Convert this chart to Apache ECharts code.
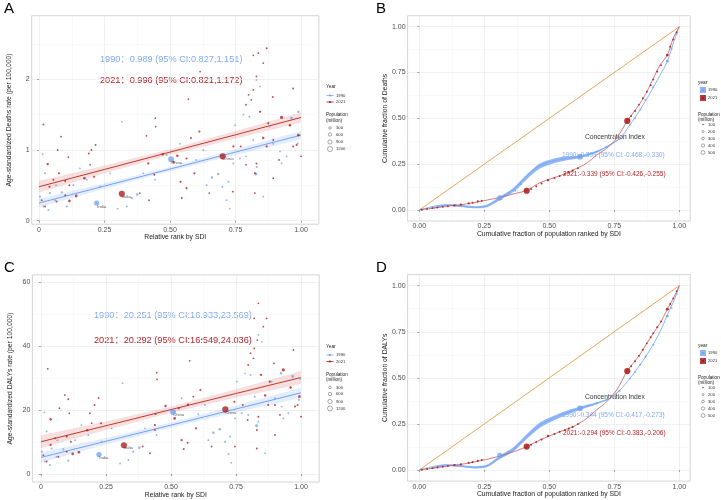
<!DOCTYPE html>
<html><head><meta charset="utf-8">
<script src="https://cdn.jsdelivr.net/npm/echarts@6/dist/echarts.min.js"></script>
<style>html,body{margin:0;padding:0;background:#fff}#c{width:721px;height:500px}</style>
</head><body><div id="c"></div>
<script>
// ---------------- data ----------------
const rankTicks = [0, 0.25, 0.5, 0.75, 1];
const rankTickLabels = ['0', '0.25', '0.50', '0.75', '1.00'];
const fracTickLabels = ['0.00', '0.25', '0.50', '0.75', '1.00'];
const rankMinor = [0.125, 0.375, 0.625, 0.875];
const deathTicks = [0, 1, 2];
const deathTickLabels = ['0', '1', '2'];
const deathMinor = [0.5, 1.5, 2.5];
const dalyTicks = [0, 20, 40, 60];
const dalyTickLabels = ['0', '20', '40', '60'];
const dalyMinor = [10, 30, 50];
const popLegendA = ['300', '600', '900', '1200'];
const popLegendB = ['100', '200', '300', '400', '500'];

// [rank, rate, population(million), label]
const deaths1990 = [
[0.22,0.25,870,'India'],[0.504,0.87,1150,'China'],[0.014,0.94,10],[0.023,0.67,15],[0.004,0.34,20],[0.017,0.20,10],[0.036,0.15,15],[0.061,0.29,20],[0.087,0.40,25],[0.106,0.20,30],[0.156,0.74,8],[0.30,0.17,10],[0.335,0.20,15],[0.375,0.37,80],[0.354,0.32,40],[0.316,1.40,5],[0.60,0.86,10],[0.627,1.00,8],[0.64,0.50,15],[0.66,0.61,50],[0.684,0.66,60],[0.70,0.48,20],[0.723,0.55,15],[0.716,0.29,10],[0.728,0.17,8],[0.742,0.81,10],[0.767,0.88,15],[0.79,0.91,10],[0.818,1.14,20],[0.831,0.76,15],[0.828,0.66,120],[0.803,1.47,8],[0.78,1.50,6],[0.856,0.34,6],[0.88,1.33,10],[0.894,1.09,15],[0.92,0.98,10],[0.964,1.45,120],[0.99,1.54,50],[0.987,1.09,20],[0.945,0.91,10],[0.926,0.81,8],[0.748,1.35,6],[0.844,1.90,5],[0.83,1.99,5],[0.487,0.93,10],[0.538,1.09,6],[0.443,0.58,10],[0.398,0.67,8],[0.271,0.67,6],[0.233,0.48,10],[0.182,0.58,8],[0.131,0.50,12],[0.065,0.50,15],[0.042,0.39,20]
];
const deaths2021 = [
[0.017,1.36,12],[0.033,0.80,60],[0.084,1.19,8],[0.076,0.67,25],[0.116,0.28,80],[0.142,0.35,90],[0.173,0.60,70],[0.20,1.00,15],[0.216,1.07,10],[0.21,0.62,20],[0.316,0.38,1400,'India'],[0.444,1.45,5],[0.445,1.33,5],[0.417,0.81,40],[0.41,1.20,5],[0.472,0.94,60],[0.513,0.83,80],[0.528,0.92,60],[0.54,0.55,30],[0.545,0.32,20],[0.57,1.72,6],[0.563,0.88,30],[0.58,1.17,10],[0.593,0.67,40],[0.612,1.26,25],[0.615,2.11,4],[0.563,0.46,20],[0.701,0.91,1420,'China'],[0.742,1.05,30],[0.79,1.64,10],[0.80,1.78,5],[0.81,1.71,8],[0.818,2.34,4],[0.837,2.37,6],[0.869,2.44,10],[0.856,2.23,5],[0.83,2.04,5],[0.818,1.85,8],[0.844,1.54,40],[0.875,1.38,20],[0.869,1.05,30],[0.856,1.17,60],[0.894,1.14,15],[0.892,1.75,6],[0.926,1.46,200],[0.958,1.35,60],[0.97,1.87,10],[0.97,1.05,20],[0.983,1.07,15],[0.99,1.21,80],[1.0,0.91,10],[0.824,0.67,15],[0.824,0.39,10],[0.894,0.60,8],[0.79,0.79,10],[0.83,0.81,15],[0.916,0.86,10],[0.77,1.05,8],[0.74,0.41,6],[0.65,0.39,6],[0.42,0.29,8],[0.385,0.39,10],[0.44,0.65,10],[0.04,0.48,30],[0.055,0.58,20],[0.10,0.56,25],[0.116,0.50,15],[0.01,0.29,10],[0.023,0.20,8],[0.067,0.27,12],[0.10,0.36,10],[0.19,0.95,8],[0.195,0.79,6],[0.112,0.90,6],[0.071,1.00,5]
];
const dalys1990 = [
[0.223,6.1,870,'India'],[0.508,19.4,1150,'China'],[0.013,19.3,10],[0.022,13.3,15],[0.003,7.0,20],[0.015,3.9,10],[0.035,2.8,15],[0.06,5.4,20],[0.086,7.7,25],[0.105,4.2,30],[0.156,15.3,8],[0.304,3.3,10],[0.336,4.4,15],[0.378,8.2,80],[0.355,7.0,40],[0.314,28.4,5],[0.605,18.7,10],[0.631,21.6,8],[0.644,10.6,15],[0.663,12.9,50],[0.688,14.0,60],[0.708,10.1,20],[0.727,11.7,15],[0.721,6.3,10],[0.732,3.5,8],[0.746,17.4,10],[0.772,19.0,15],[0.797,18.5,10],[0.822,24.2,20],[0.836,16.4,15],[0.829,15.1,120],[0.806,31.0,8],[0.785,31.5,6],[0.862,6.5,6],[0.887,28.9,10],[0.90,23.7,15],[0.926,21.1,10],[0.968,30.5,120],[0.996,29.9,50],[0.923,31.5,60],[0.992,23.2,20],[0.951,19.0,10],[0.932,17.4,8],[0.753,28.9,6],[0.849,41.4,5],[0.836,43.5,5],[0.49,20.0,10],[0.541,23.7,6],[0.445,12.2,10],[0.40,14.3,8],[0.272,14.3,6],[0.233,10.1,10],[0.182,12.2,8],[0.131,10.6,12],[0.063,10.6,15],[0.041,8.0,20]
];
const dalys2021 = [
[0.026,32.9,12],[0.037,17.1,60],[0.092,24.7,8],[0.105,23.4,6],[0.122,6.3,80],[0.146,6.8,90],[0.178,13.7,70],[0.206,21.6,15],[0.222,23.8,10],[0.231,15.9,20],[0.319,9.0,1400,'India'],[0.445,31.7,5],[0.446,29.6,5],[0.441,18.8,20],[0.438,15.3,40],[0.479,21.3,60],[0.514,17.4,80],[0.53,20.6,30],[0.541,10.6,30],[0.549,7.8,20],[0.572,35.4,6],[0.565,21.7,30],[0.586,24.2,10],[0.596,14.3,40],[0.613,26.3,25],[0.618,42.2,4],[0.564,9.8,20],[0.709,20.2,1420,'China'],[0.744,22.6,30],[0.797,34.1,10],[0.806,37.8,5],[0.817,36.2,8],[0.82,48.7,4],[0.836,53.4,6],[0.855,46.1,5],[0.868,48.7,10],[0.832,41.9,5],[0.82,39.3,8],[0.846,31.0,40],[0.88,28.9,20],[0.874,21.6,30],[0.862,24.6,60],[0.90,21.6,15],[0.896,34.6,6],[0.932,32.6,200],[0.96,27.1,60],[0.971,38.8,10],[0.977,21.1,20],[0.987,21.6,15],[0.994,24.2,80],[1.0,17.9,10],[0.83,13.8,15],[0.83,8.0,10],[0.90,12.2,8],[0.795,16.9,10],[0.836,17.9,15],[0.919,18.5,10],[0.776,21.6,8],[0.746,8.6,6],[0.656,8.6,6],[0.419,6.5,8],[0.391,8.6,10],[0.438,13.8,10],[0.037,9.1,30],[0.054,11.2,20],[0.099,11.7,25],[0.115,10.1,15],[0.009,5.9,10],[0.022,3.9,8],[0.067,5.4,12],[0.099,7.0,10],[0.188,19.0,8],[0.195,15.9,6],[0.109,19.0,6],[0.071,20.6,5]
];

// regression fits and confidence bands
const fitX = [0, 0.25, 0.5, 0.75, 1];
const fitDeaths1990 = [0.25, 0.49, 0.73, 0.97, 1.21];
const loDeaths1990 = [0.19, 0.45, 0.70, 0.93, 1.15];
const hiDeaths1990 = [0.31, 0.53, 0.76, 1.01, 1.27];
const fitDeaths2021 = [0.48, 0.725, 0.97, 1.215, 1.46];
const loDeaths2021 = [0.40, 0.67, 0.93, 1.16, 1.39];
const hiDeaths2021 = [0.56, 0.78, 1.01, 1.27, 1.53];
const fitDalys1990 = [5.2, 10.25, 15.3, 20.35, 25.4];
const loDalys1990 = [3.6, 9.2, 14.5, 19.3, 23.8];
const hiDalys1990 = [6.8, 11.3, 16.1, 21.4, 27.0];
const fitDalys2021 = [10.1, 15.1, 20.15, 25.2, 30.2];
const loDalys2021 = [8.1, 13.8, 19.2, 23.9, 28.2];
const hiDalys2021 = [12.1, 16.4, 21.1, 26.5, 32.2];

// concentration curves
const equality = [[0, 0], [1, 1]];
const curveB1990 = [[0,0],[0.09,0.027],[0.155,0.022],[0.21,0.015],[0.26,0.022],[0.31,0.064],[0.36,0.109],[0.41,0.18],[0.46,0.24],[0.515,0.267],[0.567,0.282],[0.618,0.291],[0.682,0.318],[0.733,0.355],[0.772,0.391],[0.81,0.464],[0.849,0.546],[0.887,0.636],[0.926,0.736],[0.954,0.81],[0.983,0.937],[1,1]];
const curveB2021 = [[0,0],[0.09,0.018],[0.155,0.028],[0.21,0.04],[0.26,0.054],[0.31,0.069],[0.36,0.087],[0.413,0.107],[0.464,0.149],[0.541,0.187],[0.592,0.218],[0.644,0.255],[0.682,0.30],[0.721,0.337],[0.759,0.391],[0.80,0.486],[0.849,0.582],[0.875,0.645],[0.90,0.718],[0.926,0.791],[0.954,0.845],[0.977,0.937],[1,1]];
const curveD1990 = [[0,0],[0.092,0.027],[0.157,0.022],[0.209,0.015],[0.259,0.022],[0.31,0.069],[0.362,0.112],[0.413,0.181],[0.464,0.244],[0.515,0.28],[0.541,0.298],[0.567,0.311],[0.618,0.335],[0.682,0.362],[0.733,0.389],[0.772,0.434],[0.81,0.497],[0.849,0.57],[0.887,0.651],[0.926,0.75],[0.954,0.841],[0.983,0.931],[1,1]];
const curveD2021 = [[0,0],[0.092,0.018],[0.157,0.03],[0.209,0.043],[0.259,0.058],[0.31,0.076],[0.362,0.099],[0.413,0.127],[0.464,0.163],[0.541,0.208],[0.592,0.235],[0.644,0.28],[0.682,0.326],[0.721,0.371],[0.759,0.434],[0.80,0.537],[0.849,0.628],[0.875,0.687],[0.90,0.742],[0.926,0.796],[0.954,0.872],[0.977,0.931],[1,1]];
const ribbonX = [0.05,0.1,0.157,0.209,0.259,0.31,0.362,0.413,0.464,0.515,0.567,0.618,0.682,0.733,0.772];
const ribbonBLo = [0.006,0.021,0.016,0.009,0.015,0.055,0.098,0.167,0.226,0.254,0.271,0.284,0.313,0.352,0.389];
const ribbonBHi = [0.014,0.031,0.028,0.021,0.029,0.073,0.12,0.193,0.254,0.28,0.293,0.298,0.323,0.358,0.393];
const ribbonDLo = [0.006,0.021,0.016,0.009,0.015,0.06,0.101,0.168,0.23,0.267,0.3,0.327,0.357,0.386,0.432];
const ribbonDHi = [0.014,0.031,0.028,0.021,0.029,0.078,0.123,0.194,0.258,0.293,0.322,0.343,0.367,0.392,0.436];

const pointsB1990 = [[0.01,0.001,8],[0.04,0.008,10],[0.08,0.018,10],[0.14,0.027,40],[0.31,0.066,870],[0.345,0.095,10],[0.37,0.105,15],[0.39,0.14,10],[0.618,0.291,1150],[0.65,0.305,15],[0.682,0.318,20],[0.72,0.345,10],[0.77,0.388,15],[0.81,0.464,10],[0.83,0.5,15],[0.85,0.548,10],[0.87,0.6,20],[0.9,0.67,10],[0.954,0.812,120],[0.97,0.88,10],[0.99,0.96,8]];
const pointsB2021 = [[0.01,0.002,8],[0.03,0.006,10],[0.05,0.01,8],[0.07,0.013,12],[0.09,0.017,10],[0.11,0.02,10],[0.135,0.025,40],[0.16,0.029,30],[0.19,0.036,25],[0.205,0.04,20],[0.225,0.047,30],[0.24,0.051,15],[0.413,0.105,1400],[0.43,0.115,20],[0.45,0.13,15],[0.47,0.145,20],[0.495,0.163,60],[0.52,0.175,15],[0.54,0.186,20],[0.56,0.196,15],[0.575,0.205,30],[0.59,0.216,20],[0.61,0.228,15],[0.8,0.486,1420],[0.815,0.512,10],[0.83,0.54,15],[0.845,0.575,10],[0.86,0.61,20],[0.875,0.645,10],[0.89,0.68,15],[0.9,0.712,10],[0.915,0.755,20],[0.93,0.79,10],[0.954,0.845,120],[0.965,0.89,15],[0.977,0.93,10],[0.99,0.97,8]];
const pointsD1990 = [[0.01,0.001,8],[0.04,0.009,10],[0.08,0.019,10],[0.14,0.027,40],[0.31,0.08,870],[0.345,0.1,10],[0.37,0.118,15],[0.39,0.15,10],[0.618,0.335,1150],[0.65,0.348,15],[0.682,0.362,20],[0.72,0.382,10],[0.77,0.43,15],[0.81,0.497,10],[0.83,0.532,15],[0.85,0.572,10],[0.87,0.615,20],[0.9,0.68,10],[0.954,0.835,120],[0.97,0.88,10],[0.99,0.955,8]];
const pointsD2021 = [[0.01,0.002,8],[0.03,0.006,10],[0.05,0.01,8],[0.07,0.014,12],[0.09,0.018,10],[0.11,0.022,10],[0.135,0.027,40],[0.16,0.031,30],[0.19,0.039,25],[0.205,0.043,20],[0.225,0.05,30],[0.24,0.054,15],[0.413,0.127,1400],[0.43,0.137,20],[0.45,0.152,15],[0.47,0.165,20],[0.495,0.185,60],[0.52,0.196,15],[0.54,0.207,20],[0.56,0.216,15],[0.575,0.225,30],[0.59,0.234,20],[0.61,0.25,15],[0.80,0.537,1420],[0.815,0.563,10],[0.83,0.59,15],[0.845,0.62,10],[0.86,0.652,20],[0.875,0.687,10],[0.89,0.72,15],[0.9,0.742,10],[0.915,0.774,20],[0.93,0.806,10],[0.954,0.872,120],[0.965,0.9,15],[0.977,0.931,10],[0.99,0.97,8]];

const textA1990 = '1990：0.989 (95% CI:0.827,1.151)';
const textA2021 = '2021：0.996 (95% CI:0.821,1.172)';
const textC1990 = '1990：20.251 (95% CI:16.933,23.569)';
const textC2021 = '2021：20.292 (95% CI:16.549,24.036)';
const textB1990 = '1990:-0.399 (95% CI:-0.468,-0.330)';
const textB2021 = '2021:-0.339 (95% CI:-0.426,-0.255)';
const textD1990 = '1990:-0.344 (95% CI:-0.417,-0.273)';
const textD2021 = '2021:-0.294 (95% CI:-0.383,-0.206)';

// ---------------- styling / building ----------------
const FF = '"Liberation Sans", Arial, "Noto Sans CJK SC", sans-serif';
const BLUE = '#74a3f2', RED = '#b0201f', ORANGE = '#e9a45e';
const TXTBLUE = '#7eaaf6', TXTRED = '#b3232a';
const sizeOf = p => 1.5 + Math.sqrt(p) * 0.125;
const fmt = (vals, labels) => v => { const i = vals.findIndex(t => Math.abs(t - v) < 1e-9); return i >= 0 ? labels[i] : ''; };

const grids = [
  {left: 31.7, top: 15.7, width: 287.1, height: 208.5},
  {left: 407.6, top: 15.7, width: 282.6, height: 205.3},
  {left: 32.4, top: 274.9, width: 286.8, height: 207.1},
  {left: 407.6, top: 274.6, width: 282.6, height: 206.5}
].map(g => Object.assign(g, {show: true, borderColor: '#c9c9c9', borderWidth: 0.8, backgroundColor: '#fff', containLabel: false}));

const panels = [
  {x: [-0.028, 1.068], y: [-0.05, 2.9], xt: rankTicks, xl: rankTickLabels, xm: rankMinor, yt: deathTicks, yl: deathTickLabels, ym: deathMinor, xn: 'Relative rank by SDI', yn: 'Age-standardized Deaths rate (per 100,000)'},
  {x: [-0.045, 1.042], y: [-0.06, 1.06], xt: rankTicks, xl: fracTickLabels, xm: rankMinor, yt: rankTicks, yl: fracTickLabels, ym: rankMinor, xn: 'Cumulative fraction of population ranked by SDI', yn: 'Cumulative fraction of Deaths'},
  {x: [-0.033, 1.07], y: [-2.5, 62.3], xt: rankTicks, xl: rankTickLabels, xm: rankMinor, yt: dalyTicks, yl: dalyTickLabels, ym: dalyMinor, xn: 'Relative rank by SDI', yn: 'Age-standardized DALYs rate (per 100,000)'},
  {x: [-0.045, 1.042], y: [-0.06, 1.06], xt: rankTicks, xl: fracTickLabels, xm: rankMinor, yt: rankTicks, yl: fracTickLabels, ym: rankMinor, xn: 'Cumulative fraction of population ranked by SDI', yn: 'Cumulative fraction of DALYs'}
];

const xAxes = [], yAxes = [];
const nameStyle = {fontSize: 6.8, color: '#1a1a1a', fontFamily: FF};
const labStyle = {fontSize: 7, color: '#4d4d4d', fontFamily: FF};
panels.forEach((p, i) => {
  xAxes.push({type: 'value', gridIndex: i, min: p.x[0], max: p.x[1], position: 'bottom',
    name: p.xn, nameLocation: 'middle', nameGap: 10, nameTextStyle: nameStyle,
    axisLine: {show: false},
    axisTick: {show: true, length: 2, lineStyle: {color: '#555', width: 0.5}, customValues: p.xt},
    axisLabel: Object.assign({customValues: p.xt, formatter: fmt(p.xt, p.xl), margin: 2}, labStyle),
    splitLine: {show: true, lineStyle: {color: '#e6e6e6', width: 0.6}}});
  yAxes.push({type: 'value', gridIndex: i, min: p.y[0], max: p.y[1], position: 'left',
    name: p.yn, nameLocation: 'middle', nameGap: 19, nameRotate: 90, nameTextStyle: nameStyle,
    axisLine: {show: false},
    axisTick: {show: true, length: 2, lineStyle: {color: '#555', width: 0.5}, customValues: p.yt},
    axisLabel: Object.assign({customValues: p.yt, formatter: fmt(p.yt, p.yl), margin: 2}, labStyle),
    splitLine: {show: true, lineStyle: {color: '#e6e6e6', width: 0.6}}});
});
panels.forEach((p, i) => {
  xAxes.push({type: 'value', gridIndex: i, min: p.x[0], max: p.x[1], position: 'top',
    axisLine: {show: false}, axisTick: {show: false, customValues: p.xm}, axisLabel: {show: false, customValues: p.xm},
    splitLine: {show: true, lineStyle: {color: '#f3f3f3', width: 0.5}}});
  yAxes.push({type: 'value', gridIndex: i, min: p.y[0], max: p.y[1], position: 'right',
    axisLine: {show: false}, axisTick: {show: false, customValues: p.ym}, axisLabel: {show: false, customValues: p.ym},
    splitLine: {show: true, lineStyle: {color: '#f3f3f3', width: 0.5}}});
});

function band(gi, xs, lo, hi, fill, smooth) {
  return {type: 'custom', xAxisIndex: gi, yAxisIndex: gi, silent: true, z: 1, clip: true,
    data: [[xs[0], lo[0]]],
    renderItem: (params, api) => {
      const pts = [];
      xs.forEach((x, k) => pts.push(api.coord([x, lo[k]])));
      for (let k = xs.length - 1; k >= 0; k--) pts.push(api.coord([xs[k], hi[k]]));
      return {type: 'polygon', shape: {points: pts, smooth: smooth || 0}, style: {fill: fill, stroke: null}};
    }};
}
function line(gi, data, color, w, smooth, z) {
  return {type: 'line', xAxisIndex: gi, yAxisIndex: gi, data: data, showSymbol: false, symbol: 'none',
    smooth: smooth || false, silent: true, z: z || 2, lineStyle: {color: color, width: w}};
}
function pts(gi, data, color, opacity) {
  return {type: 'scatter', xAxisIndex: gi, yAxisIndex: gi, data: data, silent: true, z: 3,
    symbolSize: d => sizeOf(d[2]),
    itemStyle: {color: color, opacity: opacity},
    label: {show: true, formatter: q => q.data[3] || '', position: [3, 4], fontSize: 4.2, color: '#333', fontFamily: FF}};
}
const zip = (xs, ys) => xs.map((x, k) => [x, ys[k]]);

const series = [
  band(0, fitX, loDeaths1990, hiDeaths1990, 'rgba(120,165,240,0.20)'),
  band(0, fitX, loDeaths2021, hiDeaths2021, 'rgba(210,110,110,0.22)'),
  line(0, zip(fitX, fitDeaths1990), BLUE, 1),
  line(0, zip(fitX, fitDeaths2021), '#c0392b', 1),
  pts(0, deaths1990, BLUE, 0.8),
  pts(0, deaths2021, RED, 0.8),

  band(2, fitX, loDalys1990, hiDalys1990, 'rgba(120,165,240,0.20)'),
  band(2, fitX, loDalys2021, hiDalys2021, 'rgba(210,110,110,0.22)'),
  line(2, zip(fitX, fitDalys1990), BLUE, 1),
  line(2, zip(fitX, fitDalys2021), '#c0392b', 1),
  pts(2, dalys1990, BLUE, 0.8),
  pts(2, dalys2021, RED, 0.8),

  line(1, equality, ORANGE, 1),
  band(1, ribbonX, ribbonBLo, ribbonBHi, 'rgba(125,170,245,0.85)', 0.3),
  line(1, curveB1990, '#7fa9f3', 0.9, 0.3),
  line(1, curveB2021, '#c45a5a', 0.8, 0.3),
  pts(1, pointsB1990, BLUE, 0.85),
  pts(1, pointsB2021, RED, 0.9),

  line(3, equality, ORANGE, 1),
  band(3, ribbonX, ribbonDLo, ribbonDHi, 'rgba(125,170,245,0.85)', 0.3),
  line(3, curveD1990, '#7fa9f3', 0.9, 0.3),
  line(3, curveD2021, '#c45a5a', 0.8, 0.3),
  pts(3, pointsD1990, BLUE, 0.85),
  pts(3, pointsD2021, RED, 0.9)
];

// ---------------- graphics: letters, annotations, legends ----------------
const G = [];
function T(x, y, s, size, color, align) {
  G.push({type: 'text', x: x, y: y, z: 0, silent: true,
    style: {text: s, fontSize: size, fill: color, fontFamily: FF, align: align || 'left', verticalAlign: 'middle'}});
}
T(4, 9, 'A', 15, '#000'); T(376, 9, 'B', 15, '#000');
T(4, 268, 'C', 15, '#000'); T(376, 268, 'D', 15, '#000');
T(100, 59, textA1990, 9.2, TXTBLUE); T(100, 80, textA2021, 9.2, TXTRED);
T(94, 315, textC1990, 9.2, TXTBLUE); T(94, 340, textC2021, 9.2, TXTRED);
T(585, 137, 'Concentration Index', 6.7, '#333'); T(562, 155, textB1990, 6.5, TXTBLUE); T(563, 174, textB2021, 6.5, TXTRED);
T(585, 397, 'Concentration Index', 6.7, '#333'); T(562, 415, textD1990, 6.5, TXTBLUE); T(563, 433, textD2021, 6.5, TXTRED);

function legendScatter(x0, y0) {
  T(x0, y0, 'Year', 4.8, '#222');
  [[BLUE, '1990', 8.5], [RED, '2021', 15]].forEach(([c, s, dy]) => {
    G.push({type: 'line', silent: true, shape: {x1: x0 + 0.5, y1: y0 + dy, x2: x0 + 7.5, y2: y0 + dy}, style: {stroke: c, lineWidth: 0.8}});
    G.push({type: 'circle', silent: true, shape: {cx: x0 + 4, cy: y0 + dy, r: 1.1}, style: {fill: c}});
    T(x0 + 10, y0 + dy, s, 4.2, '#333');
  });
  T(x0, y0 + 28, 'Population', 4.6, '#222'); T(x0, y0 + 33.5, '(million)', 4.6, '#222');
  const ys = [41, 47.5, 55, 62], rs = [1.3, 1.7, 2.1, 2.5];
  popLegendA.forEach((s, k) => {
    G.push({type: 'circle', silent: true, shape: {cx: x0 + 4, cy: y0 + ys[k], r: rs[k]}, style: {fill: 'none', stroke: '#555', lineWidth: 0.5}});
    T(x0 + 10, y0 + ys[k], s, 4.2, '#333');
  });
}
function legendCurve(x0, y0) {
  T(x0, y0, 'year', 4.8, '#222');
  [['#8fb4f5', '#6d9ef0', '1990', 7], ['#b8393b', '#8a1515', '2021', 15]].forEach(([c, c2, s, dy]) => {
    G.push({type: 'rect', silent: true, shape: {x: x0 + 2, y: y0 + dy - 3, width: 6, height: 6}, style: {fill: c}});
    G.push({type: 'circle', silent: true, shape: {cx: x0 + 5, cy: y0 + dy, r: 0.9}, style: {fill: c2}});
    T(x0 + 10, y0 + dy, s, 4.2, '#333');
  });
  T(x0, y0 + 32, 'Population', 4.6, '#222'); T(x0, y0 + 37, '(million)', 4.6, '#222');
  const rs = [0.5, 1.0, 1.35, 1.65, 1.95];
  popLegendB.forEach((s, k) => {
    G.push({type: 'circle', silent: true, shape: {cx: x0 + 5, cy: y0 + 41.5 + 7 * k, r: rs[k]}, style: {fill: k === 0 ? '#555' : 'none', stroke: '#555', lineWidth: 0.5}});
    T(x0 + 10, y0 + 41.5 + 7 * k, s, 4.2, '#333');
  });
}
legendScatter(326, 87);
legendScatter(326, 346.5);
legendCurve(698, 83);
legendCurve(698, 346);

const chart = echarts.init(document.getElementById('c'), null, {renderer: 'canvas'});
chart.setOption({
  animation: false,
  backgroundColor: '#fff',
  textStyle: {fontFamily: FF},
  grid: grids,
  xAxis: xAxes,
  yAxis: yAxes,
  series: series,
  graphic: G
});
</script>
</body></html>
